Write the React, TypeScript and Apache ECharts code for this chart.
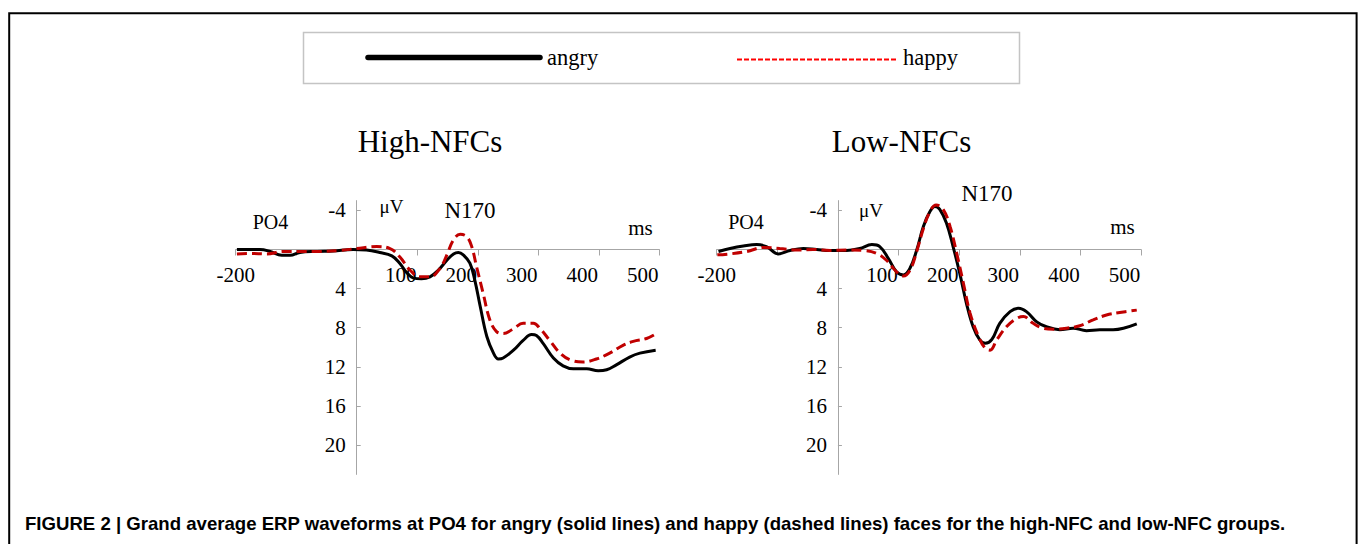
import React, { useEffect, useRef } from "react";
import * as echarts from "echarts";

// ---- data (ms, µV) ----
const highAngry: number[][] = [
  [-198, 0], [-160, 0], [-143, 0.2], [-124, 0.6], [-110, 0.6], [-94, 0.3], [-66, 0.2], [-39, 0.15],
  [-6, 0], [16, 0.05], [38, 0.3], [58, 0.65], [71, 1.4], [83, 2.4], [93, 2.9], [107, 3.0], [121, 2.8],
  [135, 2.1], [149, 1.1], [160, 0.45], [168, 0.3], [176, 0.55], [187, 1.4], [195, 3.1], [204, 5.8],
  [215, 8.9], [226, 10.6], [234, 11.2], [242, 11.1], [259, 10.3], [275, 9.3], [289, 8.7], [297, 8.8],
  [308, 9.6], [325, 11.1], [341, 11.9], [358, 12.2], [380, 12.2], [399, 12.4], [413, 12.3], [429, 11.8],
  [451, 11.0], [468, 10.6], [494, 10.3],
];
const highHappy: number[][] = [
  [-198, 0.45], [-176, 0.4], [-149, 0.45], [-121, 0.2], [-94, 0.2], [-66, 0.2], [-28, 0.1], [0, -0.1],
  [33, -0.3], [55, -0.1], [71, 0.75], [88, 2.1], [104, 2.8], [121, 2.8], [138, 1.9], [149, 0.55],
  [160, -1.0], [171, -1.55], [182, -1.3], [190, -0.3], [198, 1.75], [209, 4.5], [220, 7.2], [231, 8.4],
  [242, 8.6], [259, 8.1], [275, 7.55], [292, 7.55], [303, 8.1], [319, 9.3], [336, 10.6], [353, 11.3],
  [374, 11.5], [396, 11.2], [418, 10.6], [440, 9.8], [457, 9.4], [479, 9.1], [495, 8.6],
];
const lowAngry: number[][] = [
  [-197, 0.2], [-178, -0.1], [-156, -0.35], [-134, -0.5], [-118, -0.3], [-98, 0.45], [-79, 0.1],
  [-57, -0.1], [-35, 0], [-13, 0.1], [14, 0.1], [36, -0.1], [56, -0.5], [69, -0.3], [83, 0.9], [97, 2.3],
  [108, 2.6], [119, 1.9], [130, 0.05], [141, -2.35], [152, -3.9], [160, -4.4], [168, -4.1], [179, -2.7],
  [190, -0.3], [201, 2.45], [212, 5.5], [223, 7.9], [234, 9.25], [243, 9.6], [254, 9.2], [267, 7.55],
  [284, 6.35], [298, 6.0], [311, 6.35], [328, 7.4], [344, 7.9], [366, 8.2], [388, 8.05], [410, 8.3],
  [432, 8.2], [454, 8.2], [471, 8.05], [493, 7.6],
];
const lowHappy: number[][] = [
  [-199, 0.55], [-178, 0.45], [-150, 0.2], [-123, -0.2], [-96, -0.1], [-68, 0.05], [-41, 0], [-13, 0.1],
  [14, 0.05], [42, 0.1], [64, 0.4], [80, 1.1], [97, 2.3], [108, 2.7], [119, 2.1], [130, 0.2], [141, -2.15],
  [152, -3.9], [162, -4.55], [174, -4.05], [185, -2.35], [196, 0.4], [207, 3.45], [218, 6.5], [232, 8.9],
  [243, 10.1], [251, 10.3], [262, 9.25], [278, 7.9], [295, 7.05], [306, 6.85], [322, 7.55], [339, 8.05],
  [355, 8.15], [377, 8.05], [399, 7.8], [421, 7.2], [443, 6.7], [465, 6.45], [493, 6.2],
];

const panelTitles = ["High-NFCs", "Low-NFCs"];
const seriesNames = ["angry", "happy"];
const xLabelValues = [-200, 100, 200, 300, 400, 500];
const yTickValues = [-4, 4, 8, 12, 16, 20];
const yTickMarks = [-4, 0, 4, 8, 12, 16, 20];
const caption =
  "FIGURE 2 | Grand average ERP waveforms at PO4 for angry (solid lines) and happy (dashed lines) faces for the high-NFC and low-NFC groups.";

const SERIF = '"Times New Roman", "Liberation Serif", serif';
const SANS = 'Arial, "Liberation Sans", Helvetica, sans-serif';
const AXIS_GRAY = "#a6a6a6";
const DARK_RED = "#c00000";

function txt(text: string, x: number, y: number, fontSize: number, align = "center", extra: any = {}) {
  return {
    type: "text",
    x,
    y,
    silent: true,
    style: {
      text,
      fill: "#000",
      fontSize,
      fontFamily: SERIF,
      textAlign: align,
      textVerticalAlign: "middle",
      ...extra,
    },
  };
}

export default function App() {
  const ref = useRef<HTMLDivElement>(null);

  useEffect(() => {
    if (!ref.current) return;
    const chart = echarts.init(ref.current, undefined, { renderer: "svg" });

    const X_MIN = -200, X_MAX = 500, Y_MIN = -5, Y_MAX = 23;
    const grids = [
      { left: 235.7, top: 200.6, width: 423.6, height: 273.8 },
      { left: 716.7, top: 200.6, width: 424.3, height: 273.8 },
    ];

    const labelStyle = { fontSize: 21, fontFamily: SERIF, color: "#000" };

    // place the axes on the zero lines via offsets from the grid edges
    const xAxes = grids.map((g, i) => {
      const zeroY = g.top + ((0 - Y_MIN) / (Y_MAX - Y_MIN)) * g.height;
      return {
        type: "value",
        gridIndex: i,
        min: X_MIN,
        max: X_MAX,
        interval: 100,
        position: "bottom",
        offset: -(g.top + g.height - zeroY),
        axisLine: { onZero: false, lineStyle: { color: AXIS_GRAY, width: 1 } },
        axisTick: { show: true, inside: false, length: 6, lineStyle: { color: AXIS_GRAY } },
        splitLine: { show: false },
        axisLabel: {
          margin: 15,
          ...labelStyle,
          customValues: xLabelValues,
          formatter: (v: number) => (v < 0 ? `{n|${v}}` : `{p|${v}}`),
          rich: {
            n: { ...labelStyle },
            p: { ...labelStyle, padding: [0, 33, 0, 0] },
          },
        },
      };
    });

    const yAxes = grids.map((g, i) => {
      const zeroX = g.left + ((0 - X_MIN) / (X_MAX - X_MIN)) * g.width;
      return {
        type: "value",
        gridIndex: i,
        inverse: true,
        min: Y_MIN,
        max: Y_MAX,
        position: "left",
        offset: -(zeroX - g.left),
        axisLine: { onZero: false, lineStyle: { color: AXIS_GRAY, width: 1 } },
        axisTick: { show: true, inside: true, length: 4, customValues: yTickMarks, lineStyle: { color: AXIS_GRAY } },
        splitLine: { show: false },
        axisLabel: { margin: 11, customValues: yTickValues, ...labelStyle },
      };
    });

    const panels = [
      [highAngry, highHappy],
      [lowAngry, lowHappy],
    ];
    const series: any[] = [];
    panels.forEach((pair, i) => {
      series.push({
        name: seriesNames[0],
        type: "line",
        xAxisIndex: i,
        yAxisIndex: i,
        data: pair[0],
        showSymbol: false,
        smooth: 0.4,
        lineStyle: { color: "#000", width: 3 },
        z: 2,
      });
      series.push({
        name: seriesNames[1],
        type: "line",
        xAxisIndex: i,
        yAxisIndex: i,
        data: pair[1],
        showSymbol: false,
        smooth: 0.4,
        lineStyle: { color: DARK_RED, width: 3, type: [10, 5] },
        z: 3,
      });
    });

    const graphic: any[] = [
      // frame
      {
        type: "polyline",
        silent: true,
        shape: { points: [[9.2, 546], [9.2, 13.2], [1356.6, 13.2], [1356.6, 546]] },
        style: { stroke: "#000", lineWidth: 2, fill: null },
      },
      // legend box
      {
        type: "rect",
        silent: true,
        shape: { x: 303.5, y: 32.5, width: 716, height: 51 },
        style: { stroke: "#c4c4c4", lineWidth: 1.5, fill: "#fff" },
      },
      {
        type: "line",
        silent: true,
        shape: { x1: 368, y1: 57.5, x2: 540, y2: 57.5 },
        style: { stroke: "#000", lineWidth: 5.5, lineCap: "round" },
      },
      txt(seriesNames[0], 547, 57, 22.5, "left"),
      {
        type: "line",
        silent: true,
        shape: { x1: 737, y1: 59.5, x2: 897, y2: 59.5 },
        style: { stroke: "#ff0000", lineWidth: 2, lineDash: [5, 2] },
      },
      txt(seriesNames[1], 903, 57, 22.5, "left"),
      // panel titles
      txt(panelTitles[0], 430, 141, 31),
      txt(panelTitles[1], 901.5, 141, 31),
      // annotations left
      txt("PO4", 270.5, 221.5, 20),
      txt("μV", 391.5, 206.9, 19),
      txt("N170", 470, 210.5, 23),
      txt("ms", 640.5, 228, 21),
      // annotations right
      txt("PO4", 746, 222.2, 20),
      txt("μV", 871, 210.3, 19),
      txt("N170", 987, 193.9, 23),
      txt("ms", 1122.5, 227, 21),
      // caption
      txt(caption, 25, 523, 18.6, "left", { fontFamily: SANS, fontWeight: "bold" }),
    ];

    chart.setOption({
      animation: false,
      backgroundColor: "#fff",
      grid: grids.map((g) => ({ ...g, containLabel: false })),
      xAxis: xAxes,
      yAxis: yAxes,
      series,
      graphic,
    } as any);

    return () => chart.dispose();
  }, []);

  return (
    <div
      ref={ref}
      style={{ position: "absolute", left: 0, top: 0, width: 1358, height: 544, background: "#fff" }}
    />
  );
}
